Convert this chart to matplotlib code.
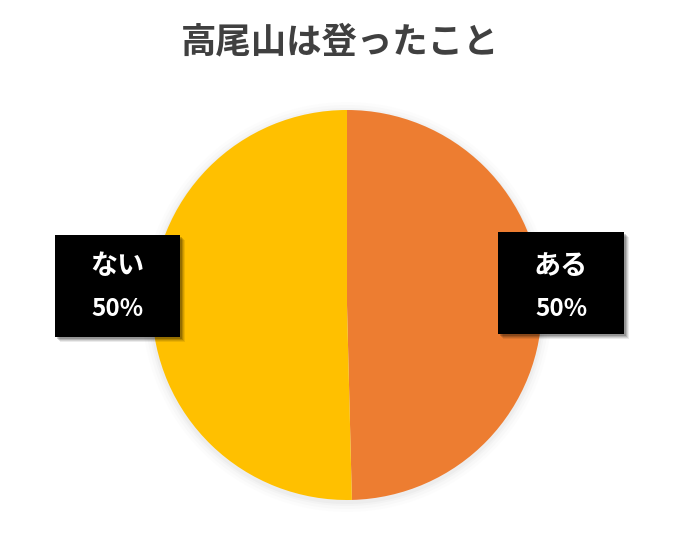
import matplotlib
matplotlib.use("Agg")
import matplotlib.pyplot as plt
from matplotlib.patches import Circle, Rectangle

plt.rcParams['font.family'] = ['Noto Sans CJK JP', 'DejaVu Sans']

# data
title = "高尾山は登ったこと"
labels = ["ある", "ない"]
counts = [62, 63]
pct_labels = ["50%", "50%"]
colors = ["#ED7D31", "#FFC000"]

W, H = 681, 540
fig = plt.figure(figsize=(W / 100, H / 100), dpi=100)
ax = fig.add_axes([0, 0, 1, 1])

cx, cy, r = 347, H - 305, 195

# soft shadow round the pie
for k, a in [(10, 0.02), (7, 0.03), (4, 0.04), (2, 0.05)]:
    ax.add_patch(Circle((cx, cy - 2), r + k, color="#808080", alpha=a, lw=0, zorder=0))

ax.pie(counts, colors=colors, startangle=90, counterclock=False,
       center=(cx, cy), radius=r, wedgeprops=dict(linewidth=0, zorder=1))

ax.set_xlim(0, W)
ax.set_ylim(0, H)
ax.set_aspect("equal")
ax.axis("off")

# label boxes (left, top, right, bottom in pixels)
boxes = {"ある": (498, 232, 624, 334), "ない": (55, 235, 180, 337)}
for name, pct in zip(labels, pct_labels):
    x0, y0, x1, y1 = boxes[name]
    for k, a in [(5, 0.08), (4, 0.1), (3, 0.14), (2, 0.18)]:
        ax.add_patch(Rectangle((x0 + k, H - y1 - k), x1 - x0, y1 - y0,
                               color="#000000", alpha=a, lw=0, zorder=3))
    ax.add_patch(Rectangle((x0, H - y1), x1 - x0, y1 - y0, color="black", lw=0, zorder=4))
    xm = (x0 + x1) / 2
    ax.text(xm, H - 266, name, color="white", fontsize=19.5, fontweight="bold",
            ha="center", va="center", zorder=5)
    ax.text(xm, H - 309, pct, color="white", fontsize=17.5, fontweight="bold",
            ha="center", va="center", zorder=5)

ax.text(W / 2, H - 42, title, color="#404040", fontsize=25.5, fontweight="bold",
        ha="center", va="center")

fig.savefig("out.png", dpi=100, facecolor="white")
